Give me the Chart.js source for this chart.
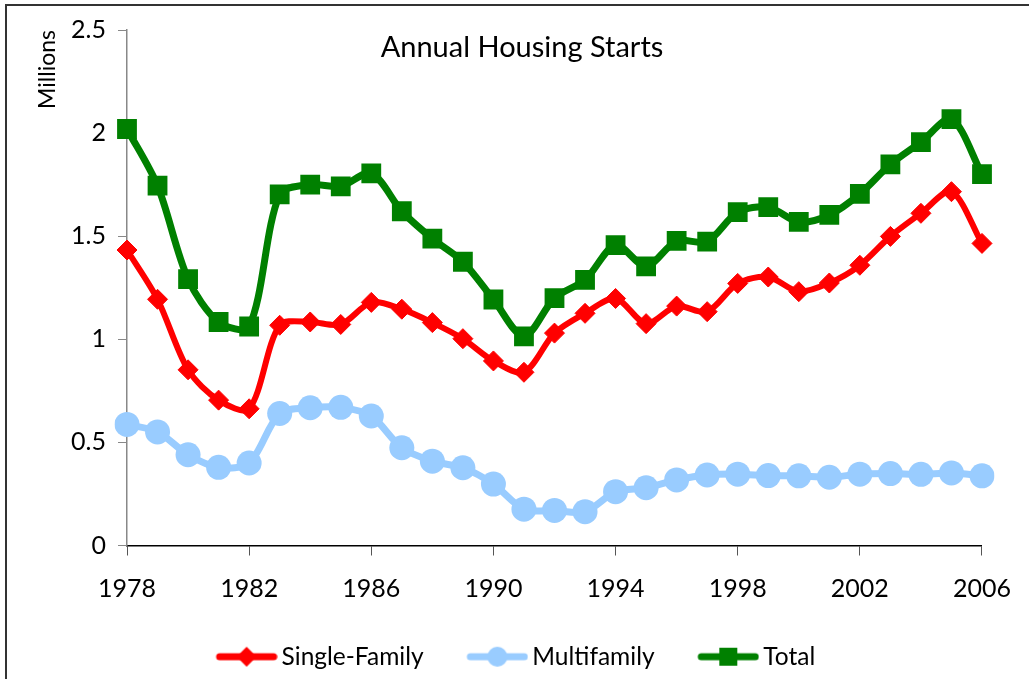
<!DOCTYPE html>
<html>
<head>
<meta charset="utf-8">
<script src="https://cdn.jsdelivr.net/npm/chart.js@4"></script>
<style>
  html, body { margin: 0; padding: 0; background: #fff; overflow: hidden; }
  #frame { position: absolute; left: 5px; top: 4px; width: 1100px; height: 800px;
           border-left: 2px solid #333; border-top: 2px solid #333; }
  #wrap { position: absolute; left: 0; top: 0; width: 1029px; height: 679px; }
</style>
</head>
<body>
<div id="frame"></div>
<div id="wrap"><canvas id="housing-chart" width="1029" height="679"></canvas></div>
<script>
// housing starts, millions of units
const years = ['1978','1979','1980','1981','1982','1983','1984','1985','1986','1987',
               '1988','1989','1990','1991','1992','1993','1994','1995','1996','1997',
               '1998','1999','2000','2001','2002','2003','2004','2005','2006'];
const singleFamily = [1.433, 1.194, 0.852, 0.705, 0.663, 1.068, 1.084, 1.072, 1.179, 1.146,
                      1.081, 1.003, 0.895, 0.840, 1.030, 1.126, 1.198, 1.076, 1.161, 1.134,
                      1.271, 1.302, 1.231, 1.273, 1.359, 1.499, 1.611, 1.716, 1.465];
const multifamily = [0.587, 0.551, 0.440, 0.379, 0.400, 0.640, 0.668, 0.670, 0.628, 0.474,
                     0.409, 0.377, 0.298, 0.176, 0.170, 0.164, 0.261, 0.280, 0.318, 0.342,
                     0.346, 0.339, 0.338, 0.331, 0.346, 0.349, 0.345, 0.352, 0.338];
const total = [2.020, 1.745, 1.292, 1.084, 1.062, 1.703, 1.750, 1.742, 1.805, 1.621,
               1.488, 1.376, 1.193, 1.014, 1.200, 1.288, 1.457, 1.354, 1.477, 1.474,
               1.617, 1.641, 1.569, 1.603, 1.705, 1.848, 1.956, 2.068, 1.801];
const xTickLabels = ['1978','1982','1986','1990','1994','1998','2002','2006'];

const RED = '#FF0000', BLUE = '#99CCFF', GREEN = '#008000';
const FONT = 'Lato, "Open Sans", sans-serif';

// little line+marker pictures for the legend (blank strip on the left so it sits off-centre)
function legendIcon(color, style, size) {
    const c = document.createElement('canvas');
    c.width = 74; c.height = 28;
    const g = c.getContext('2d');
    const cx = 43, cy = 14;
    g.strokeStyle = color; g.fillStyle = color;
    g.lineWidth = 7; g.lineCap = 'round';
    g.beginPath(); g.moveTo(16, cy); g.lineTo(70, cy); g.stroke();
    g.beginPath();
    if (style === 'circle') g.arc(cx, cy, size, 0, Math.PI * 2);
    else if (style === 'rect') g.rect(cx - size, cy - size, size * 2, size * 2);
    else { g.moveTo(cx, cy - size); g.lineTo(cx + size, cy); g.lineTo(cx, cy + size); g.lineTo(cx - size, cy); g.closePath(); }
    g.fill();
    return c;
}
const icons = [legendIcon(RED, 'diamond', 10), legendIcon(BLUE, 'circle', 10), legendIcon(GREEN, 'rect', 9)];

const chartTitle = {
    id: 'chartTitle',
    afterDraw(chart, args, opts) {
        const ctx = chart.ctx;
        ctx.save();
        ctx.font = opts.font;
        ctx.fillStyle = opts.color;
        ctx.textAlign = 'center';
        ctx.textBaseline = 'middle';
        ctx.fillText(opts.text, opts.x, opts.y);
        ctx.restore();
    }
};

new Chart(document.getElementById('housing-chart').getContext('2d'), {
    type: 'line',
    data: {
        labels: years,
        datasets: [
            { label: 'Single-Family', data: singleFamily, borderColor: RED, backgroundColor: RED,
              borderWidth: 6, pointStyle: 'rectRot', pointRadius: 10, pointBorderWidth: 1, tension: 0.3 },
            { label: 'Multifamily', data: multifamily, borderColor: BLUE, backgroundColor: BLUE,
              borderWidth: 7, pointStyle: 'circle', pointRadius: 12.5, pointBorderWidth: 0, tension: 0.3 },
            { label: 'Total', data: total, borderColor: GREEN, backgroundColor: GREEN,
              borderWidth: 7, pointStyle: 'rect', pointRadius: 14, pointBorderWidth: 0, tension: 0.3 }
        ]
    },
    options: {
        responsive: false,
        animation: false,
        layout: { padding: { left: 20, right: 22, top: 30, bottom: 0 } },
        scales: {
            x: {
                grid: { drawOnChartArea: false, drawTicks: true, tickLength: 10, color: '#555' },
                border: { display: true, color: '#000', width: 1.5 },
                ticks: {
                    autoSkip: false, maxRotation: 0, padding: 18, color: '#000',
                    font: { family: FONT, size: 25 },
                    callback: function (value) {
                        const lab = this.getLabelForValue(value);
                        return xTickLabels.includes(lab) ? lab : null;
                    }
                },
                afterFit: scale => { scale.height = 60; }
            },
            y: {
                min: 0, max: 2.5,
                grid: { drawOnChartArea: false, drawTicks: true, tickLength: 9, color: '#888' },
                border: { display: true, color: '#888', width: 1.5 },
                ticks: { stepSize: 0.5, padding: 12, color: '#000', font: { family: FONT, size: 25 },
                         callback: value => String(Number(value)) },
                title: { display: true, text: 'Millions', align: 'end', color: '#000',
                         font: { family: FONT, size: 23 }, padding: { top: 14, bottom: 0 } },
                afterFit: scale => { scale.width = 107; }
            }
        },
        plugins: {
            legend: {
                position: 'bottom',
                labels: {
                    usePointStyle: true, pointStyleWidth: 57.5, padding: 39, color: '#000',
                    font: { family: FONT, size: 24.5 },
                    generateLabels: chart => Chart.defaults.plugins.legend.labels.generateLabels(chart)
                        .map((item, i) => Object.assign(item, { pointStyle: icons[i] }))
                }
            },
            tooltip: { enabled: false },
            chartTitle: { text: 'Annual Housing Starts', x: 522, y: 48, color: '#000',
                          font: '29px Lato, "Open Sans", sans-serif' }
        }
    },
    plugins: [chartTitle]
});
</script>
</body>
</html>
